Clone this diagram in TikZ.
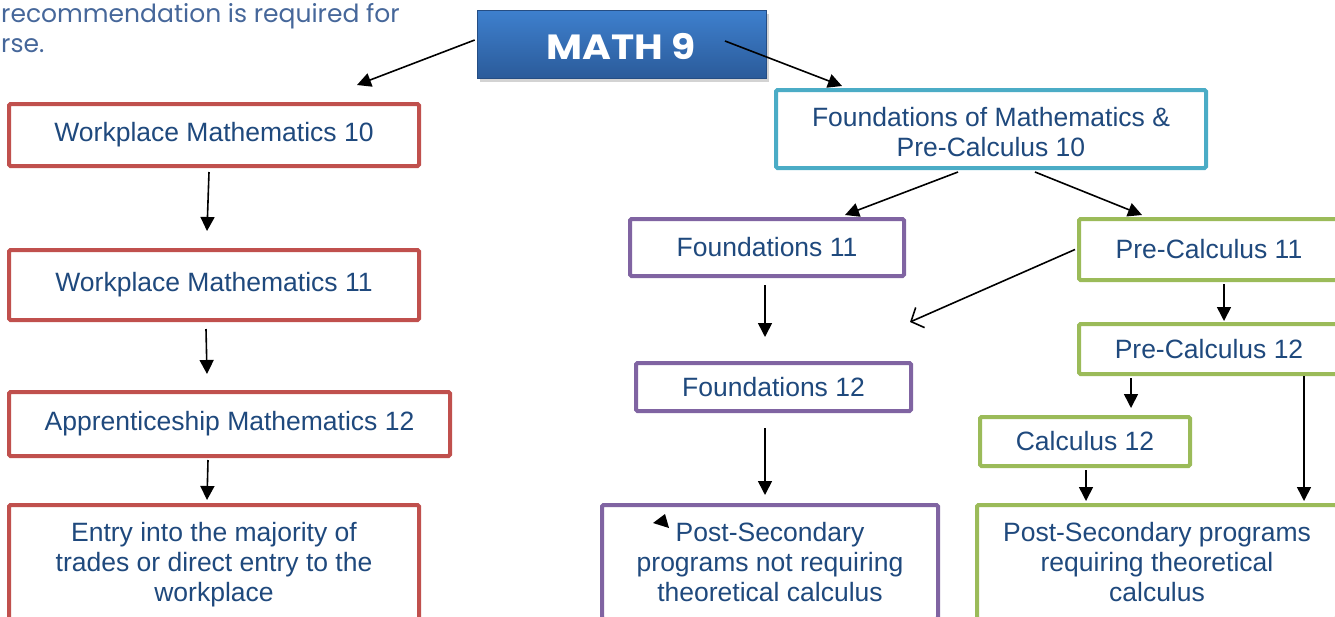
\documentclass[tikz,border=0pt]{standalone}
\usepackage{fontspec}
\setmainfont{Liberation Sans}
\newfontfamily\titlefont[FakeStretch=1.12]{Poppins}
\newfontfamily\notefont{Poppins}
\usetikzlibrary{arrows.meta,shadows,calc}
\definecolor{txtblue}{HTML}{1F497D}
\definecolor{bred}{HTML}{C0504D}
\definecolor{bpurple}{HTML}{8064A2}
\definecolor{bteal}{HTML}{4BACC6}
\definecolor{bgreen}{HTML}{9BBB59}
\definecolor{mtop}{HTML}{3E80CE}
\definecolor{mbot}{HTML}{2B5B9A}
\definecolor{notecol}{HTML}{46679A}
\begin{document}
\begin{tikzpicture}[x=1pt,y=-1pt,
  box/.style={draw=#1, line width=4pt, rounded corners=1.5pt, fill=white, inner sep=0pt,
    text=txtblue, align=center, font=\fontsize{26.5}{30}\selectfont},
  titlebox/.style={shading=axis, top color=mtop, bottom color=mbot, draw=mbot!85!black,
    line width=0.6pt, drop shadow={shadow xshift=3pt,shadow yshift=-4pt,opacity=0.35},
    text=white, inner sep=0pt, text height=31pt, text depth=0pt,
    font=\titlefont\bfseries\fontsize{35}{40}\selectfont},
  note/.style={text=notecol, inner sep=0pt, font=\notefont\fontsize{25}{30}\selectfont},
  arr/.style={-{Triangle[width=14pt,length=14pt]}, line width=1.6pt, black},
  openarr/.style={-{Straight Barb[length=10pt,width=22pt,line width=1.6pt]}, line width=1.6pt, black}
]
\useasboundingbox (0,0) rectangle (1335,616);
\clip (0,0) rectangle (1335,616);

% top-left note
\node[note, anchor=base west] (note1) at (1,22) {recommendation is required for};
\node[note, anchor=base west] (note2) at (1,52) {rse.};

% title
\node[titlebox, minimum width=289pt, minimum height=68pt] (m9) at (621.5,44) {MATH 9};

% left column (red)
\node[box=bred, minimum width=410pt, minimum height=62pt] (wm10) at (214,135) {Workplace Mathematics 10};
\node[box=bred, minimum width=410pt, minimum height=70pt] (wm11) at (214,285) {Workplace Mathematics 11};
\node[box=bred, minimum width=441pt, minimum height=64pt] (appr) at (229.5,424) {Apprenticeship Mathematics 12};
\node[box=bred, minimum width=410pt, minimum height=120pt] (entry) at (214,565) {Entry into the majority of\\trades or direct entry to the\\workplace};

% right part
\node[box=bteal, minimum width=430pt, minimum height=78pt] (fp10) at (991,129) {\rule{0pt}{25pt}Foundations of Mathematics \&\\Pre-Calculus 10};
\node[box=bpurple, minimum width=274pt, minimum height=57pt] (f11) at (767,247.5) {Foundations 11};
\node[box=bgreen, minimum width=260pt, minimum height=61pt] (pc11) at (1209,249.5) {Pre-Calculus 11};
\node[box=bgreen, minimum width=260pt, minimum height=50pt] (pc12) at (1209,349) {Pre-Calculus 12};
\node[box=bpurple, minimum width=275pt, minimum height=48pt] (f12) at (773.5,387) {Foundations 12};
\node[box=bgreen, minimum width=210pt, minimum height=49pt] (c12) at (1085,441.5) {Calculus 12};
\node[box=bpurple, minimum width=336pt, minimum height=114pt] (psn) at (770,562) {Post-Secondary\\programs not requiring\\theoretical calculus};
\node[box=bgreen, minimum width=360pt, minimum height=114pt] (psr) at (1157,562) {Post-Secondary programs\\requiring theoretical\\calculus};

\coordinate (opentip) at (910,322);

% connectors
\draw[arr] ([shift={(-2pt,4pt)}]m9.west) -- ([shift={(143pt,17pt)}]wm10.north);
\draw[arr] ([shift={(103.5pt,3pt)}]m9.center) -- ([shift={(-149pt,2pt)}]fp10.north);
\draw[arr] ([shift={(-5pt,-4pt)}]wm10.south) -- ([shift={(-7pt,17pt)}]wm11.north);
\draw[arr] ([shift={(-8pt,-7pt)}]wm11.south) -- ([shift={(-22.5pt,16pt)}]appr.north);
\draw[arr] ([shift={(-21.5pt,-2pt)}]appr.south) -- ([shift={(-7pt,3pt)}]entry.north);
\draw[arr] ([shift={(-33pt,-2pt)}]fp10.south) -- ([shift={(78pt,2pt)}]f11.north);
\draw[arr] ([shift={(44pt,-2pt)}]fp10.south) -- ([shift={(-67pt,2pt)}]pc11.north);
\draw[arr] ([shift={(-2pt,-7pt)}]f11.south) -- ([shift={(-8.5pt,24pt)}]f12.north);
\draw[openarr] ([shift={(-2pt,0pt)}]pc11.west) -- (opentip);
\draw[arr] ([shift={(15pt,-2pt)}]pc11.south) -- ([shift={(15pt,1pt)}]pc12.north);
\draw[arr] ([shift={(-8.5pt,-15pt)}]f12.south) -- ([shift={(-5pt,8pt)}]psn.north);
\draw[arr] ([shift={(-78pt,-2pt)}]pc12.south) -- ([shift={(46pt,7pt)}]c12.north);
\draw[arr] ([shift={(95pt,0pt)}]pc12.south) -- ([shift={(147pt,2pt)}]psr.north);
\draw[arr] ([shift={(1pt,-2pt)}]c12.south) -- ([shift={(-71pt,2pt)}]psr.north);

% stray arrowhead
\fill (653,523) -- (665,514) -- (669,528) -- cycle;
\end{tikzpicture}
\end{document}
